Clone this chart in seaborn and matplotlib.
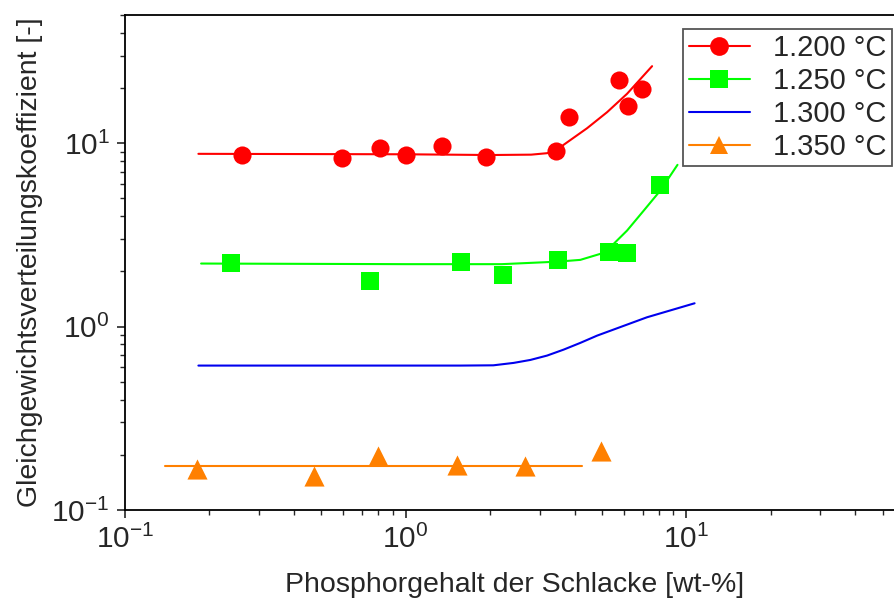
import matplotlib
matplotlib.use("Agg")
import matplotlib.pyplot as plt
from matplotlib.lines import Line2D
from matplotlib.ticker import FixedLocator
import seaborn as sns

# Messpunkte
x_1200 = [0.261, 0.593, 0.808, 1.006, 1.351, 1.933, 3.435, 3.808, 5.757, 6.93, 6.18]
y_1200 = [8.64, 8.32, 9.47, 8.60, 9.71, 8.46, 9.09, 13.86, 21.98, 19.63, 15.92]

x_1250 = [0.238, 0.748, 1.573, 2.223, 3.479, 5.32, 6.15, 8.08]
y_1250 = [2.226, 1.767, 2.249, 1.915, 2.311, 2.566, 2.524, 5.93]

x_1350 = [0.1806, 0.473, 0.795, 1.519, 2.670, 4.98]
y_1350 = [0.168, 0.154, 0.198, 0.176, 0.1745, 0.209]

fx_1200 = [0.1826, 1.0, 2.0, 2.8, 3.19, 3.435, 3.655, 4.43, 5.22, 6.15, 7.55]
fy_1200 = [8.75, 8.70, 8.62, 8.66, 8.82, 9.09, 9.80, 12.07, 14.76, 18.6, 26.3]

fx_1250 = [0.1867, 1.0, 2.2, 3.479, 4.19, 4.94, 5.51, 6.15, 7.05, 8.08, 9.30]
fy_1250 = [2.207, 2.19, 2.19, 2.26, 2.311, 2.493, 2.827, 3.34, 4.29, 5.52, 7.62]

fx_1300 = [0.1826, 1.566, 2.053, 2.426, 2.782, 3.19, 3.655, 4.19, 4.81, 7.24, 10.7]
fy_1300 = [0.613, 0.613, 0.615, 0.634, 0.658, 0.695, 0.749, 0.815, 0.893, 1.124, 1.34]

fx_1350 = [0.1385, 4.25]
fy_1350 = [0.173, 0.173]

labels = ["1.200 °C", "1.250 °C", "1.300 °C", "1.350 °C"]
colors = ["#ff0000", "#00ff00", "#0000ee", "#ff8000"]
markers = ["o", "s", None, "^"]
sizes = [170, 170, 0, 210]

sns.set_style("ticks")
plt.rcParams["font.family"] = ["Liberation Sans", "DejaVu Sans"]
plt.rcParams["mathtext.fontset"] = "custom"
plt.rcParams["mathtext.rm"] = "Liberation Sans"
plt.rcParams["mathtext.it"] = "Liberation Sans"
plt.rcParams["mathtext.default"] = "regular"

fig = plt.figure(figsize=(8.95, 6.03), dpi=100)
ax = fig.add_axes([125 / 895, 93 / 603, 842 / 895, 495 / 603])

curves = [(fx_1200, fy_1200), (fx_1250, fy_1250), (fx_1300, fy_1300), (fx_1350, fy_1350)]
for (fx, fy), c in zip(curves, colors):
    sns.lineplot(x=fx, y=fy, color=c, linewidth=1.5, ax=ax, zorder=2)

points = [(x_1200, y_1200), (x_1250, y_1250), None, (x_1350, y_1350)]
for pts, c, m, s in zip(points, colors, markers, sizes):
    if pts is None:
        continue
    sns.scatterplot(x=pts[0], y=pts[1], color=c, marker=m, s=s, linewidth=0, ax=ax, zorder=3)

ax.set_xscale("log")
ax.set_yscale("log")
ax.set_xlim(0.1, 100)
ax.set_ylim(0.1, 50)
ax.xaxis.set_major_locator(FixedLocator([0.1, 1, 10]))

ax.set_xlabel("Phosphorgehalt der Schlacke [wt-%]", fontsize=20.5)
ax.set_ylabel("Gleichgewichtsverteilungskoeffizient [-]", fontsize=20.5)
ax.xaxis.set_label_coords((515 - 125) / 842, -0.125)
ax.yaxis.set_label_coords(-82 / 842, 0.5)

ax.tick_params(which="major", direction="out", length=6, width=1.2, labelsize=21.5, pad=5)
ax.tick_params(which="minor", direction="out", length=3.5, width=1.0)
ax.tick_params(top=False, right=False, which="both")
for sp in ax.spines.values():
    sp.set_linewidth(1.3)
    sp.set_color("black")

handles = [Line2D([], [], color=c, marker=m, markersize=13.5, linewidth=1.5, markeredgewidth=0)
           for c, m in zip(colors, markers)]
leg = fig.legend(handles, labels, loc="upper right", bbox_to_anchor=(892 / 895, 1 - 29 / 603),
                 fontsize=21, frameon=True, fancybox=False, framealpha=1,
                 handlelength=2.1, handletextpad=0.8, labelspacing=0.17, borderpad=0.18,
                 borderaxespad=0)
leg.get_frame().set_edgecolor("#555555")
leg.get_frame().set_linewidth(1.3)

fig.savefig("out.png", dpi=100)
plt.close(fig)
